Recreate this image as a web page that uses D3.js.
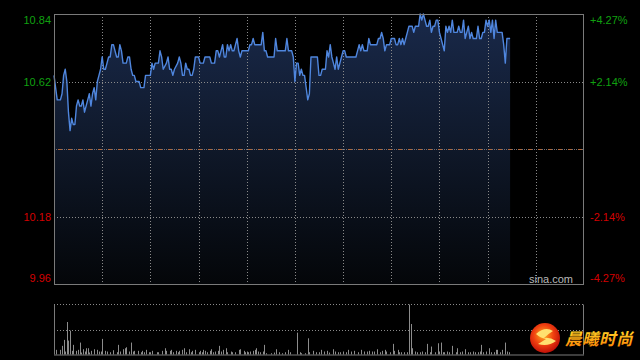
<!DOCTYPE html>
<html><head><meta charset="utf-8">
<script src="https://cdn.jsdelivr.net/npm/d3@7"></script>
<style>html,body{margin:0;padding:0;background:#000;overflow:hidden}svg{display:block}</style>
</head><body>
<svg id="c" width="640" height="360"></svg>
<script>
// ---- data ----
const minutes = [0,2,4,5,6,7,8,9,10,11,12,13,14,15,16,17,18,19,21,22,23,24,25,26,27,28,29,30,31,32,33,34,35,36,37,38,39,40,41,42,43,45,46,47,48,49,50,51,53,54,56,57,60,61,62,63,65,66,67,68,70,71,72,73,74,75,77,78,79,80,81,82,83,84,85,86,87,88,90,91,93,94,97,98,100,101,102,103,104,105,106,107,108,109,110,111,112,114,115,116,117,120,121,122,123,124,125,127,129,130,131,132,133,137,138,139,144,145,146,148,149,150,151,152,153,154,155,156,157,158,159,160,164,165,166,167,169,170,171,172,173,174,175,176,177,178,179,180,181,182,188,189,190,191,192,193,195,196,197,201,202,203,204,205,206,207,209,210,212,213,214,215,216,217,218,219,220,221,223,224,225,227,228,229,230,231,232,233,234,235,236,237,238,239,240,241,243,244,245,246,247,248,249,251,252,253,254,255,256,257,258,259,260,261,263,264,265,266,267,268,269,270,271,272,273,274,275,276,279,280,281,282,284];
const prices = [10.64,10.56,10.56,10.58,10.64,10.66,10.62,10.52,10.46,10.50,10.48,10.48,10.54,10.56,10.54,10.54,10.56,10.52,10.56,10.58,10.54,10.58,10.60,10.56,10.62,10.64,10.66,10.70,10.66,10.66,10.68,10.70,10.70,10.74,10.74,10.72,10.70,10.70,10.74,10.72,10.68,10.68,10.70,10.70,10.66,10.64,10.64,10.62,10.62,10.60,10.60,10.64,10.64,10.68,10.66,10.68,10.68,10.72,10.70,10.66,10.68,10.70,10.66,10.66,10.64,10.66,10.68,10.70,10.68,10.64,10.64,10.68,10.66,10.66,10.64,10.64,10.66,10.70,10.70,10.68,10.68,10.70,10.70,10.68,10.68,10.72,10.72,10.70,10.72,10.74,10.70,10.70,10.74,10.72,10.74,10.72,10.72,10.76,10.72,10.70,10.72,10.72,10.72,10.74,10.74,10.76,10.74,10.74,10.74,10.78,10.72,10.72,10.70,10.70,10.76,10.72,10.72,10.76,10.72,10.72,10.70,10.62,10.68,10.68,10.64,10.66,10.64,10.64,10.60,10.56,10.58,10.70,10.70,10.64,10.64,10.66,10.66,10.72,10.70,10.74,10.70,10.68,10.66,10.70,10.66,10.68,10.70,10.72,10.72,10.70,10.70,10.72,10.74,10.72,10.74,10.72,10.72,10.76,10.74,10.74,10.76,10.76,10.78,10.76,10.72,10.74,10.74,10.76,10.76,10.74,10.74,10.76,10.74,10.76,10.74,10.76,10.78,10.80,10.80,10.78,10.80,10.80,10.84,10.82,10.84,10.82,10.80,10.80,10.82,10.78,10.80,10.80,10.82,10.82,10.78,10.76,10.72,10.80,10.78,10.80,10.78,10.82,10.78,10.78,10.80,10.78,10.78,10.82,10.76,10.78,10.80,10.76,10.78,10.76,10.76,10.80,10.76,10.76,10.78,10.78,10.82,10.80,10.82,10.78,10.82,10.76,10.82,10.78,10.78,10.74,10.68,10.76,10.76];
const volMinutes = [1,4,5,6,7,8,9,10,11,12,14,15,16,17,18,19,20,21,22,23,25,27,28,29,30,32,33,35,37,39,40,41,43,44,45,47,48,49,50,52,54,55,56,57,59,60,61,64,65,67,69,70,72,73,74,76,77,78,80,81,82,84,85,86,88,90,91,92,93,94,95,97,98,99,100,102,103,104,105,107,108,110,111,113,115,116,118,119,120,121,122,124,125,126,127,128,130,131,132,135,137,138,140,142,144,146,147,151,153,154,156,158,159,161,163,165,166,168,170,171,174,175,177,178,180,182,183,185,187,189,191,193,195,196,198,199,201,203,204,206,207,209,211,212,214,215,216,218,220,221,222,223,225,226,228,229,231,232,234,235,237,239,240,241,242,243,245,246,248,250,251,253,254,256,258,259,261,262,264,265,266,267,269,271,272,274,275,276,278,279,281,282,283];
const volumes = [47,47,87,147,30,327,140,240,37,97,37,47,120,20,53,30,63,63,20,37,53,47,30,30,157,37,30,23,43,23,97,30,53,63,73,30,120,30,37,37,23,37,23,47,23,23,37,23,23,37,63,37,37,47,23,37,23,37,47,63,23,53,23,37,47,23,37,23,47,37,23,37,53,23,30,37,87,30,47,63,23,30,23,23,47,53,37,23,30,23,30,37,47,63,30,23,30,97,13,13,20,53,23,13,23,47,23,220,23,13,13,163,23,37,23,23,47,30,37,20,53,30,23,23,30,23,47,30,37,23,47,30,30,37,30,30,53,23,37,47,30,23,107,37,47,23,23,23,23,503,307,63,30,23,23,30,23,107,23,80,23,113,30,120,23,23,30,23,87,23,63,23,30,53,23,23,30,23,23,30,97,23,30,63,23,23,47,47,23,47,120,30,23];
const priceTicks = [10.84, 10.62, 10.18, 9.96];
const priceLabels = ["10.84", "10.62", "10.18", "9.96"];
const pctLabels = ["+4.27%", "+2.14%", "-2.14%", "-4.27%"];
const prevClose = 10.40;
const gridMinutes = [30,60,90,120,150,180,210,240,270,300];

// ---- layout ----
const svg = d3.select("#c");
const L = 54, R = 584, T = 14, B = 284;
const VT = 304.5, VB = 354.5;
const x = d3.scaleLinear().domain([0, 330]).range([L, R]);
const y = d3.scaleLinear().domain([9.96, 10.84]).range([B, T]);
const vy = d3.scaleLinear().domain([0, d3.max(volumes)]).range([VB, VT]);
const pts = minutes.map((m, i) => ({m, p: prices[i]}));

const defs = svg.append("defs");
const g1 = defs.append("linearGradient").attr("id","fillg").attr("gradientUnits","userSpaceOnUse")
  .attr("x1",0).attr("y1",T).attr("x2",0).attr("y2",B);
g1.append("stop").attr("offset","0").attr("stop-color","#19294a");
g1.append("stop").attr("offset","0.5").attr("stop-color","#0f1829");
g1.append("stop").attr("offset","1").attr("stop-color","#040609");

// area
svg.append("path").datum(pts)
  .attr("d", d3.area().x(d => x(d.m)).y0(B).y1(d => y(d.p)))
  .attr("fill","url(#fillg)");

// grid
const grid = svg.append("g").attr("stroke","#8a8a8a").attr("stroke-width",1).attr("stroke-dasharray","1,2").attr("fill","none");
gridMinutes.forEach(m => {
  const xx = Math.round(x(m)) + 0.5;
  grid.append("line").attr("x1",xx).attr("x2",xx).attr("y1",T).attr("y2",B);
});
[10.62, 10.18].forEach(v => {
  const yy = Math.round(y(v)) + 0.5;
  grid.append("line").attr("x1",L).attr("x2",R).attr("y1",yy).attr("y2",yy);
});
const ym = Math.round(y(prevClose)) + 0.5;
svg.append("line").attr("x1",L).attr("x2",R).attr("y1",ym).attr("y2",ym)
  .attr("stroke","#6a6f7a").attr("stroke-dasharray","1,1");
svg.append("line").attr("x1",L+4).attr("x2",R).attr("y1",ym).attr("y2",ym)
  .attr("stroke","#b0683c").attr("stroke-dasharray","4,6");

// price line
svg.append("path").datum(pts)
  .attr("d", d3.line().x(d => x(d.m)).y(d => y(d.p)))
  .attr("fill","none").attr("stroke","#4f86de").attr("stroke-width",1.4).attr("stroke-linejoin","round");

// frame
svg.append("rect").attr("x",L+0.5).attr("y",T+0.5).attr("width",R-L-1).attr("height",B-T)
  .attr("fill","none").attr("stroke","#7a7a7a");

// axes labels
const col = v => v >= prevClose ? "#10a010" : "#d40000";
const nudge = v => v === 10.84 ? 6 : (v === 9.96 ? -6 : 0);
const axL = svg.append("g").attr("transform",`translate(${L-3},0)`)
  .call(d3.axisLeft(y).tickValues(priceTicks).tickSize(0).tickFormat((d,i) => priceLabels[i]));
const axR = svg.append("g").attr("transform",`translate(${R+6},0)`)
  .call(d3.axisRight(y).tickValues(priceTicks).tickSize(0).tickFormat((d,i) => pctLabels[i]));
[axL, axR].forEach(ax => {
  ax.select(".domain").remove();
  ax.selectAll(".tick text")
    .attr("font-family","'Liberation Sans', Arial, sans-serif").attr("font-size","11px")
    .attr("fill", d => col(d)).attr("dy", d => (0.32 + nudge(d)/11) + "em")
    .attr("x", ax === axL ? 0 : 0);
});

svg.append("text").attr("x",573).attr("y",283).attr("text-anchor","end")
  .attr("font-family","'Liberation Sans', Arial, sans-serif").attr("font-size","11px")
  .attr("fill","#b8b8b8").text("sina.com");

// volume panel
const vg = svg.append("g");
vg.append("line").attr("x1",L).attr("x2",R).attr("y1",VT).attr("y2",VT).attr("stroke","#8a8a8a").attr("stroke-dasharray","1,2");
vg.append("line").attr("x1",L).attr("x2",R).attr("y1",Math.round(vy(d3.max(volumes)/2))+0.5).attr("y2",Math.round(vy(d3.max(volumes)/2))+0.5).attr("stroke","#8a8a8a").attr("stroke-dasharray","1,2");
vg.selectAll("rect.v").data(volMinutes).join("rect").attr("class","v")
  .attr("x", m => Math.round(x(m)))
  .attr("width",1)
  .attr("y", (m,i) => vy(volumes[i]))
  .attr("height", (m,i) => VB - vy(volumes[i]))
  .attr("fill","#8c8c8c");
vg.append("line").attr("x1",L).attr("x2",R).attr("y1",VB+0.5).attr("y2",VB+0.5).attr("stroke","#7a7a7a");
vg.append("line").attr("x1",L+0.5).attr("x2",L+0.5).attr("y1",VT).attr("y2",VB).attr("stroke","#7a7a7a");
vg.append("line").attr("x1",R-0.5).attr("x2",R-0.5).attr("y1",VT).attr("y2",VB).attr("stroke","#7a7a7a");

// watermark logo
const rg = defs.append("radialGradient").attr("id","lg").attr("cx","0.45").attr("cy","0.4").attr("r","0.6");
rg.append("stop").attr("offset","0").attr("stop-color","#ffb020");
rg.append("stop").attr("offset","0.55").attr("stop-color","#f04010");
rg.append("stop").attr("offset","1").attr("stop-color","#c01008");
const tg = defs.append("linearGradient").attr("id","tg").attr("x1",0).attr("y1",0).attr("x2",0).attr("y2",1);
tg.append("stop").attr("offset","0").attr("stop-color","#ffe830");
tg.append("stop").attr("offset","1").attr("stop-color","#ff7a00");
const logo = svg.append("g");
logo.append("circle").attr("cx",545).attr("cy",338).attr("r",15).attr("fill","url(#lg)");
logo.append("path").attr("d","M536,334 Q545,326 553,331 Q548,334 544,338 Q550,337 556,341 Q548,347 538,344 Q543,341 546,339 Q540,338 536,334 Z")
  .attr("fill","#ffe070");
logo.append("text").attr("x",565).attr("y",345).attr("font-family","'Noto Sans CJK SC', sans-serif")
  .attr("font-size","16.5px").attr("font-weight","bold").attr("font-style","italic")
  .attr("fill","url(#tg)").attr("letter-spacing","0.5").text("晨曦时尚");
</script>
</body></html>
